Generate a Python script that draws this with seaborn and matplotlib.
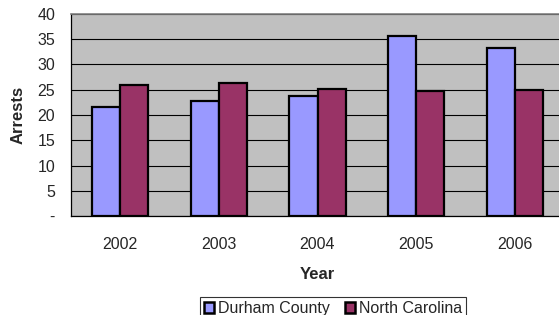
import matplotlib
matplotlib.use("Agg")
import matplotlib.pyplot as plt
import seaborn as sns
import pandas as pd
from matplotlib.patches import Patch

years = ["2002", "2003", "2004", "2005", "2006"]
durham = [21.5, 22.7, 23.8, 35.6, 33.3]
north_carolina = [25.9, 26.3, 25.1, 24.8, 24.9]
series = ["Durham County", "North Carolina"]
colors = ["#9999FF", "#993366"]
ytick_vals = [0, 5, 10, 15, 20, 25, 30, 35, 40]
ytick_labels = ["-", "5", "10", "15", "20", "25", "30", "35", "40"]

df = pd.DataFrame({
    "Year": years * 2,
    "Arrests": durham + north_carolina,
    "Series": [series[0]] * len(years) + [series[1]] * len(years),
})

sns.set_style("white")
plt.rcParams["font.family"] = ["Liberation Sans", "DejaVu Sans"]

W, H = 559, 315
fig = plt.figure(figsize=(W / 100, H / 100), dpi=100)
ax = fig.add_axes([71 / W, (H - 216) / H, (564 - 71) / W, (216 - 14) / H])
ax.set_facecolor("#C0C0C0")

sns.barplot(data=df, x="Year", y="Arrests", hue="Series", order=years,
            hue_order=series, palette=colors, width=0.57, gap=0,
            edgecolor="black", linewidth=1.6, saturation=1, ax=ax,
            legend=False, zorder=3)

ax.set_ylim(0, 40)
ax.set_xlim(-0.5, len(years) - 0.5)
ax.set_yticks(ytick_vals)
ax.set_yticklabels(ytick_labels, fontsize=11.5)
ax.yaxis.grid(True, color="black", linewidth=0.8, zorder=1)
ax.set_axisbelow(True)

ax.set_xticks([i - 0.5 for i in range(len(years) + 1)])
ax.set_xticklabels([])
ax.set_xticks(range(len(years)), minor=True)
ax.set_xticklabels(years, minor=True, fontsize=11.5)
ax.tick_params(axis="x", which="major", length=4.5, width=0.8, color="black", direction="out")
ax.tick_params(axis="x", which="minor", length=0, pad=15)
ax.tick_params(axis="y", length=4.5, width=0.8, color="black", direction="out", pad=7)

for s in ["left", "bottom"]:
    ax.spines[s].set_color("black")
    ax.spines[s].set_linewidth(0.9)
ax.spines["top"].set_color("#808080")
ax.spines["top"].set_linewidth(1.2)
ax.spines["right"].set_visible(False)

ax.set_xlabel("Year", fontsize=12, fontweight="bold", labelpad=11)
ax.set_ylabel("Arrests", fontsize=12, fontweight="bold", labelpad=8)

handles = [Patch(facecolor=c, edgecolor="black", linewidth=1.8, label=s)
           for c, s in zip(colors, series)]
leg = fig.legend(handles=handles, loc="upper center",
                 bbox_to_anchor=(333 / W, 1 - 297 / H), ncol=2, fontsize=11.5,
                 frameon=True, fancybox=False, edgecolor="black",
                 borderpad=0.25, handlelength=0.62, handleheight=0.62,
                 handletextpad=0.25, columnspacing=1.0, borderaxespad=0)
leg.get_frame().set_linewidth(0.8)

fig.savefig("out.png", dpi=100)
